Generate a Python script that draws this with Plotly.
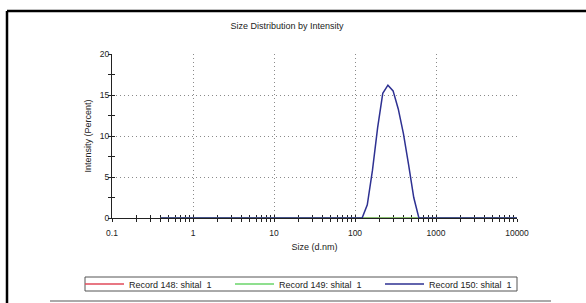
import plotly.graph_objects as go

sizes = [0.4, 0.4632, 0.5365, 0.6213, 0.7195, 0.8332, 0.9649, 1.117, 1.294, 1.499,
         1.736, 2.010, 2.328, 2.696, 3.122, 3.615, 4.187, 4.849, 5.615, 6.503,
         7.531, 8.721, 10.10, 11.70, 13.54, 15.69, 18.17, 21.04, 24.36, 28.21,
         32.67, 37.84, 43.82, 50.75, 58.77, 68.06, 78.82, 91.28, 105.7, 122.4,
         141.8, 164.2, 190.1, 220.2, 255.0, 295.3, 342.0, 396.1, 458.7, 531.2,
         615.1, 712.4, 825.0, 955.4, 1106, 1281, 1484, 1718, 1990, 2305,
         2669, 3091, 3580, 4145, 4801, 5560, 6439, 7456, 8635, 10000]

record_148 = [0.0] * 70
record_149 = [0.0] * 70
record_150 = [0.0] * 40 + [1.6, 5.8, 11.0, 15.2, 16.2, 15.5, 13.3, 10.3, 6.5, 2.5] + [0.0] * 20

series_names = ["Record 148: shital  1", "Record 149: shital  1", "Record 150: shital  1"]
series_values = [record_148, record_149, record_150]
series_colors = ["#e04a5a", "#6ad46a", "#2e3192"]

x_major = [0.1, 1, 10, 100, 1000, 10000]
x_labels = ["0.1", "1", "10", "100", "1000", "10000"]
x_minor = [m * d for d in [0.1, 1, 10, 100, 1000] for m in range(2, 10)]
y_major = [0, 5, 10, 15, 20]
y_minor = [2.5, 7.5, 12.5, 17.5]

FONT = "Liberation Sans, Arial, sans-serif"

fig = go.Figure()
for name, vals, col in zip(series_names, series_values, series_colors):
    fig.add_trace(go.Scatter(x=sizes, y=vals, mode="lines", name=name,
                             line=dict(color=col, width=1.5)))

# helper trace on overlay axes (for crossing ticks)
fig.add_trace(go.Scatter(x=[1], y=[0], xaxis="x2", yaxis="y2", mode="lines",
                         showlegend=False, hoverinfo="skip", line=dict(width=0)))

grid = dict(showgrid=True, gridcolor="#8a8a8a", gridwidth=1, griddash="1px,3px")

fig.update_layout(
    width=586, height=303,
    margin=dict(l=112, r=69, t=54, b=85, autoexpand=False),
    paper_bgcolor="white", plot_bgcolor="white",
    font=dict(family=FONT, size=9, color="#222"),
    title=dict(text="Size Distribution by Intensity", x=0.432, xref="paper",
               xanchor="center", y=1 - 26 / 303, yref="container", yanchor="middle",
               font=dict(size=9, color="#222")),
    xaxis=dict(type="log", range=[-1, 4], tickvals=x_major, ticktext=x_labels,
               ticks="outside", ticklen=3, tickcolor="#222", showline=True,
               linecolor="#222", linewidth=1, zeroline=False, layer="below traces",
               tickfont=dict(size=8.5), ticklabelstandoff=4, **grid,
               minor=dict(tickvals=x_minor, ticks="outside", ticklen=3,
                          tickcolor="#222", showgrid=False),
               title=dict(text="Size (d.nm)", standoff=6, font=dict(size=9))),
    yaxis=dict(range=[0, 20], tickvals=y_major, ticks="inside", ticklen=3,
               tickcolor="#222", showline=True, linecolor="#222", linewidth=1,
               zeroline=False, layer="below traces", tickfont=dict(size=8.5), **grid,
               minor=dict(tickvals=y_minor, ticks="inside", ticklen=3,
                          tickcolor="#222", showgrid=False),
               title=dict(text="Intensity (Percent)", standoff=6, font=dict(size=9))),
    xaxis2=dict(type="log", range=[-1, 4], overlaying="x", anchor="y",
                tickvals=x_major + x_minor, ticks="inside", ticklen=3,
                tickcolor="#222", showticklabels=False, showgrid=False,
                showline=False, zeroline=False, layer="below traces"),
    yaxis2=dict(range=[0, 20], overlaying="y", anchor="x",
                tickvals=y_major + y_minor, ticks="outside", ticklen=3,
                tickcolor="#222", showticklabels=False, showgrid=False,
                showline=False, zeroline=False, layer="below traces", side="left"),
    legend=dict(orientation="h", x=(80 - 112) / 405, xanchor="left",
                y=(218 - 284) / 164, yanchor="middle", bgcolor="rgba(0,0,0,0)",
                borderwidth=0, font=dict(size=9, color="#222"),
                entrywidth=96, entrywidthmode="pixels", tracegroupgap=0,
                itemwidth=39),
    showlegend=True,
)

def px_x(p):
    return (p - 112) / 405

def px_y(p):
    return (218 - p) / 164

fig.add_shape(type="line", xref="paper", yref="paper", x0=px_x(7), x1=px_x(590),
              y0=px_y(11), y1=px_y(11), line=dict(color="black", width=2.5))
fig.add_shape(type="line", xref="paper", yref="paper", x0=px_x(7), x1=px_x(7),
              y0=px_y(11), y1=px_y(310), line=dict(color="black", width=2.5))
fig.add_shape(type="line", xref="paper", yref="paper", x0=px_x(50), x1=px_x(551),
              y0=px_y(301), y1=px_y(301), line=dict(color="#aaaaaa", width=2))
fig.add_shape(type="rect", xref="paper", yref="paper", x0=px_x(85), x1=px_x(517),
              y0=px_y(291), y1=px_y(277), line=dict(color="#555555", width=1))

fig.write_html("out.html", post_script="document.body.style.margin='0';",
               config={"displayModeBar": False})
